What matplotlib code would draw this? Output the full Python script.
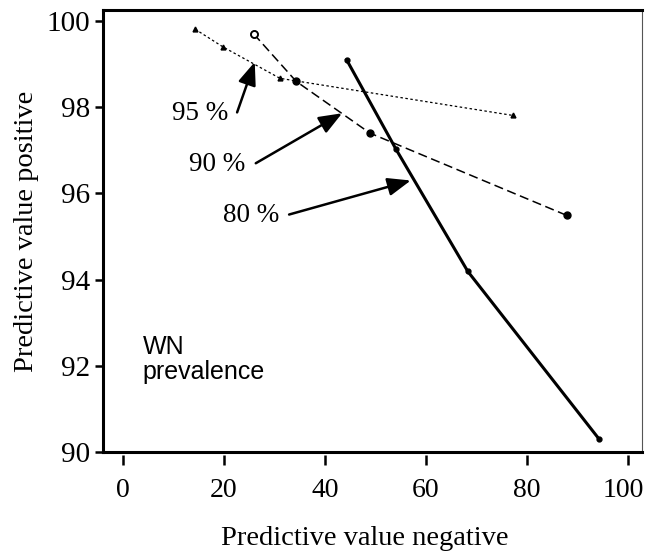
import matplotlib
matplotlib.use("Agg")
import matplotlib.pyplot as plt
from matplotlib.transforms import ScaledTranslation

# Data
npv_95 = [14.3, 19.8, 31.1, 77.2]
ppv_95 = [99.81, 99.40, 98.67, 97.81]

npv_90 = [25.9, 34.3, 48.9, 87.9]
ppv_90 = [99.70, 98.60, 97.40, 95.49]

npv_80 = [44.3, 54.1, 68.3, 94.3]
ppv_80 = [99.10, 97.02, 94.19, 90.30]

labels = ["95 %", "90 %", "80 %"]
label_pos = [(15.2, 97.86), (18.6, 96.67), (25.3, 95.49)]
arrow_tail = [(22.6, 97.88), (26.3, 96.70), (32.9, 95.51)]
arrow_tip = [(26.1, 99.05), (43.4, 97.86), (57.0, 96.30)]

xticks = [0, 20, 40, 60, 80, 100]
yticks = [90, 92, 94, 96, 98, 100]

serif = ["Liberation Serif", "DejaVu Serif"]

fig = plt.figure(figsize=(6.46, 5.55), dpi=100)
ax = fig.add_axes([103/646, 1-452/555, (642-103)/646, (452-10)/555])

ax.spines["bottom"].set_position(("outward", 2))
ax.spines["bottom"].set_visible(False)

ax.plot(npv_95, ppv_95, color="black", lw=0.9, ls=(0, (2, 2)),
        marker="^", ms=3.5, zorder=3)
ax.plot(npv_90, ppv_90, color="black", lw=1.1, ls=(0, (6, 3)),
        marker="o", ms=5, zorder=3)
ax.plot(npv_90[:1], ppv_90[:1], ls="none", marker="o", ms=5,
        mfc="white", mec="black", mew=1.3, zorder=4)
ax.plot(npv_80, ppv_80, color="black", lw=2.2, ls="-",
        marker="o", ms=3.5, zorder=3)

for lab, pos, tail, tip in zip(labels, label_pos, arrow_tail, arrow_tip):
    ax.text(pos[0], pos[1], lab, ha="center", va="center",
            fontsize=19.5, family=serif)
    ax.annotate("", xy=tip, xytext=tail,
                arrowprops=dict(arrowstyle="-|>,head_length=1.4,head_width=0.55",
                                color="black", lw=1.8, shrinkA=0, shrinkB=0))

ax.text(3.9, 92.72, "WN\nprevalence", ha="left", va="top", fontsize=18,
        family=["Liberation Sans", "DejaVu Sans"], linespacing=1.05)

ax.set_xlim(-3.96, 102.8)
ax.set_ylim(90, 100.256)
ax.set_xticks(xticks)
ax.set_yticks(yticks)
ax.set_xticklabels([str(v) for v in xticks], family=serif, fontsize=20)
ax.set_yticklabels([str(v) for v in yticks], family=serif, fontsize=21)

ax.axhline(90, color="black", lw=2.2, clip_on=False, zorder=5)
ax.spines["left"].set_linewidth(2.2)
ax.spines["top"].set_linewidth(2.2)
ax.spines["right"].set_linewidth(0.8)
ax.spines["right"].set_color("#555555")

ax.tick_params(axis="x", direction="out", length=7, width=1.8, pad=10)
ax.tick_params(axis="y", direction="out", length=6, width=1.8, pad=3)

ax.set_xlabel("Predictive value negative", family=serif, fontsize=20.5)
ax.set_ylabel("Predictive value positive", family=serif, fontsize=20.5, labelpad=6)
ax.xaxis.set_label_coords((365 - 103) / 539, -0.168)

# nudge the last x tick label so it stays inside the canvas
last = ax.get_xticklabels()[-1]
last.set_transform(last.get_transform() + ScaledTranslation(-5/100, 0, fig.dpi_scale_trans))

fig.savefig("out.png", dpi=100)
